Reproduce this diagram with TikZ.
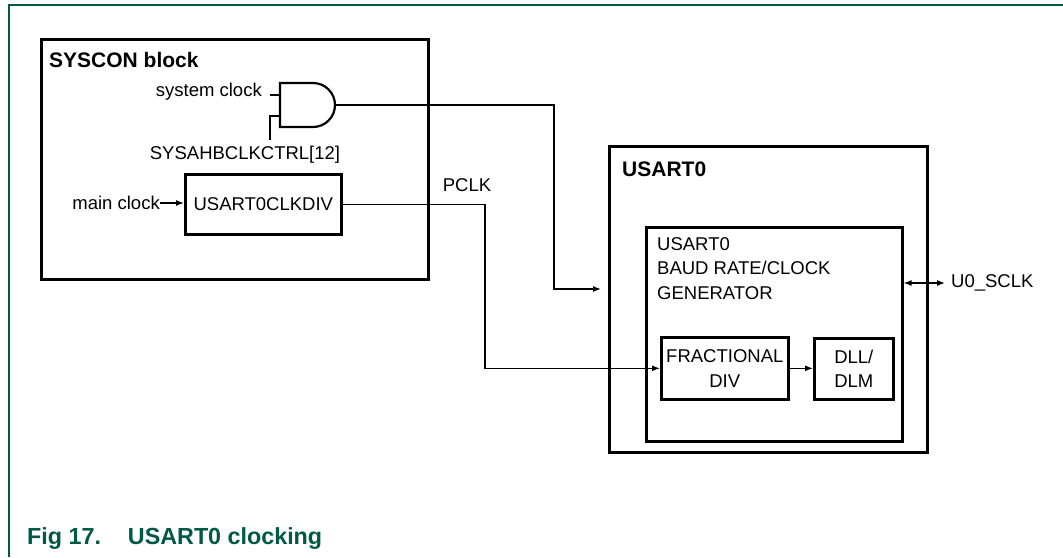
\documentclass[tikz,border=0pt]{standalone}
\usepackage{fontspec}
\setmainfont{Liberation Sans}
\usepackage{tikz}
\usetikzlibrary{arrows.meta, positioning, calc}
\definecolor{nxpgreen}{RGB}{0, 88, 70}

\begin{document}
\begin{tikzpicture}[x=1pt, y=-1pt, >={Latex[length=8pt, width=6pt]},
  blk/.style={draw, line width=2.6pt, anchor=north west, inner sep=0pt},
  txt/.style={font=\fontsize{18.5}{24.5}\selectfont, inner sep=0pt},
  ttl/.style={font=\fontsize{21}{24}\selectfont\bfseries, inner sep=0pt},
  conn/.style={line width=1.3pt}]

  \useasboundingbox (0,0) rectangle (1063,557);

  % --- page frame and caption ---
  \draw[nxpgreen, line width=2pt] (1063,5) -- (9,5) -- (9,557);
  \node[anchor=base west, text=nxpgreen, inner sep=0pt,
    font=\fontsize{23.3}{27}\selectfont\bfseries] (cap) at (27,544)
    {Fig 17.\hspace{27pt}USART0 clocking};

  % --- SYSCON block ---
  \node[blk, minimum width=387pt, minimum height=240pt] (syscon) at (40,38) {};
  \node[ttl, anchor=west] (sysconlbl) at (49,60) {SYSCON block};

  % --- AND gate ---
  \draw[line width=2.2pt] (280,83) -- (313,83)
    arc[start angle=90, end angle=-90, radius=22pt] -- (280,127) -- cycle;
  \coordinate (gin1) at (280,95);
  \coordinate (gin2) at (280,116);
  \coordinate (gout) at (335,105);
  \node[txt, anchor=base east] (sysclk) at (262,96) {system clock};
  \node[txt, anchor=base] (ctrl) at (245,159) {SYSAHBCLKCTRL[12]};
  \draw[conn] (gin1) -- ++(-10,0);
  \draw[conn] (gin2) -- ++(-10,0) -- ++(0,24);

  % --- clock divider ---
  \node[blk, txt, minimum width=156pt, minimum height=60pt] (div) at (184,173)
    {USART0CLKDIV};
  \node[txt, anchor=east] (mainclk) at (160,203) {main clock};
  \draw[conn, ->] (mainclk.east) -- (mainclk.east -| div.west);

  % --- USART0 block ---
  \node[blk, minimum width=318pt, minimum height=306pt] (usart) at (608,145) {};
  \node[ttl, anchor=west] (usartlbl) at (622,169) {USART0};
  \node[blk, minimum width=256pt, minimum height=214pt] (gen) at (645,226) {};
  \node[txt, anchor=north west, align=left] (genlbl) at (657,237)
    {USART0\\BAUD RATE/CLOCK\\GENERATOR};
  \node[blk, txt, align=center, minimum width=127pt, minimum height=62pt]
    (frac) at (660,336) {FRACTIONAL\\DIV};
  \node[blk, txt, align=center, minimum width=79pt, minimum height=61pt]
    (dll) at (813,337) {DLL/\\DLM};
  \draw[conn, ->] (frac.east) -- (frac.east -| dll.west);

  % --- PCLK path ---
  \node[txt] (pclk) at (467,185) {PCLK};
  \coordinate (pbend) at (485,203);
  \draw[conn, ->] (div.east) -- (div.east -| pbend) |- (frac.west);

  % --- gated system clock path ---
  \coordinate (gbend) at (554,289);
  \coordinate (gtip) at (601,289);
  \draw[conn, ->] (gout) -| (gbend) -- (gtip);

  % --- serial clock pin ---
  \node[txt, anchor=west] (sclk) at (951,283) {U0\_SCLK};
  \draw[conn, <->] (sclk.west -| gen.east) -- ([xshift=-6pt]sclk.west);

\end{tikzpicture}
\end{document}
